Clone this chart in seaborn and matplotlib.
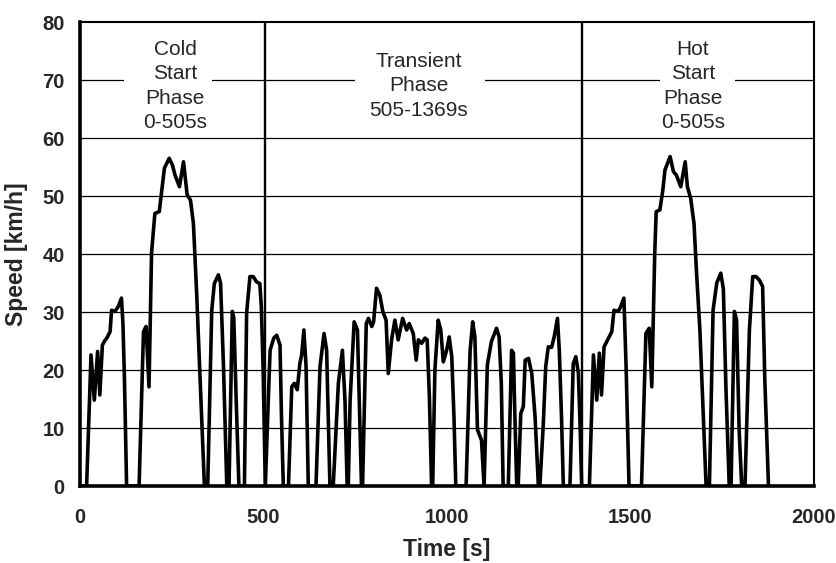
import matplotlib
matplotlib.use("Agg")
import matplotlib.pyplot as plt
from matplotlib.patches import Rectangle
import numpy as np
import pandas as pd
import seaborn as sns

# FTP-75 driving cycle: cold start, transient and hot start phases
cold_time = [0, 18, 30, 39, 48, 54, 61, 67, 73, 82, 86, 95, 104, 113, 117, 121, 127,
             161, 173, 180, 188, 195, 204, 216, 222, 230, 243, 252, 259, 271, 282, 292,
             301, 309, 318, 327, 339, 348, 359, 366, 377, 383, 391, 400, 406, 415, 419,
             426, 433, 448, 454, 463, 472, 481, 490, 494, 499, 505]
cold_speed = [0, 0, 22.6, 14.8, 23.2, 15.7, 24.3, 25.0, 25.5, 26.6, 30.3, 30.1, 30.9, 32.4, 28.0, 18.8, 0,
              0, 26.6, 27.5, 17.1, 40.2, 47.0, 47.3, 50.5, 54.8, 56.5, 55.3, 53.6, 51.6, 55.9, 50.2,
              49.3, 45.3, 33.0, 19.0, 0, 0, 30.3, 34.9, 36.4, 35.0, 20.6, 0, 0, 30.1, 29.0,
              14.0, 0, 0, 29.8, 36.1, 36.1, 35.2, 34.9, 31.0, 20.0, 0]

transient_time = [513, 518, 528, 536, 545, 549, 554, 568, 577, 584, 592, 599, 604, 610, 616, 622,
                  643, 654, 665, 672, 681, 690, 704, 715, 722, 728, 731, 736, 747, 756, 762, 767,
                  770, 780, 786, 795, 800, 808, 817, 825, 834, 840, 849, 858, 867, 879, 890, 897,
                  908, 916, 922, 931, 940, 946, 952, 958, 961, 967, 976, 983, 990, 999, 1006, 1013,
                  1019, 1024, 1052, 1063, 1070, 1076, 1083, 1094, 1101, 1110, 1121, 1135, 1142, 1148,
                  1153, 1167, 1176, 1181, 1185, 1190, 1194, 1201, 1208, 1213, 1222, 1231, 1240, 1249,
                  1253, 1262, 1269, 1276, 1285, 1292, 1301, 1306, 1312, 1317, 1335, 1344, 1351, 1358,
                  1362, 1367, 1369]
transient_speed = [14.8, 23.4, 25.5, 26.0, 24.3, 11.9, 0, 0, 17.1, 17.7, 16.6, 21.1, 22.6, 26.9, 20.6, 0,
                   0, 20.6, 26.3, 23.4, 0, 0, 17.7, 23.4, 14.8, 0, 0, 14.8, 28.3, 26.9, 11.9, 0,
                   0, 28.0, 28.9, 27.5, 28.3, 34.1, 32.9, 30.1, 28.6, 19.4, 25.2, 28.6, 25.2, 28.9, 26.9, 28.0,
                   26.3, 21.7, 25.2, 24.6, 25.5, 25.2, 15.4, 0, 0, 20.0, 28.6, 26.9, 21.4, 23.4, 25.7, 22.3,
                   11.9, 0, 0, 23.4, 28.3, 25.7, 9.7, 7.9, 0, 20.9, 24.9, 27.2, 25.7, 17.7,
                   0, 0, 23.4, 22.9, 11.9, 0, 0, 12.5, 13.7, 21.7, 22.0, 19.4, 11.9, 0,
                   0, 10.2, 20.6, 24.0, 23.9, 25.7, 28.9, 23.4, 11.9, 0, 0, 21.1, 22.3, 19.4,
                   11.9, 0, 0]

hot_time = [1388, 1399, 1408, 1415, 1421, 1428, 1440, 1449, 1455, 1467, 1473, 1482, 1488, 1496,
            1530, 1542, 1551, 1558, 1566, 1570, 1580, 1588, 1594, 1608, 1617, 1625, 1637, 1649,
            1655, 1664, 1673, 1680, 1689, 1706, 1715, 1725, 1735, 1746, 1753, 1760, 1769, 1774,
            1783, 1789, 1796, 1803, 1812, 1824, 1833, 1842, 1851, 1860, 1866, 1876]
hot_speed = [0, 22.6, 14.8, 22.9, 15.7, 24.0, 25.5, 26.6, 30.3, 30.1, 30.9, 32.4, 20.6, 0,
             0, 26.3, 27.2, 17.1, 40.0, 47.3, 47.6, 51.0, 54.5, 56.8, 54.2, 53.6, 51.6, 55.9,
             51.6, 49.6, 45.3, 36.7, 27.0, 0, 0, 30.3, 35.0, 36.7, 34.0, 17.0, 0, 0,
             30.1, 28.6, 9.7, 0, 0, 26.9, 36.1, 36.1, 35.5, 34.4, 18.3, 0]

phase_bounds = [505, 1369]
phase_labels = ["Cold\nStart\nPhase\n0-505s", "Transient\nPhase\n505-1369s", "Hot\nStart\nPhase\n0-505s"]
phase_label_x = [260, 923, 1670]
phase_label_y = 69

x_ticks = [0, 500, 1000, 1500, 2000]
y_ticks = [0, 10, 20, 30, 40, 50, 60, 70, 80]

df = pd.DataFrame({
    "time": cold_time + transient_time + hot_time,
    "speed": cold_speed + transient_speed + hot_speed,
})

sns.set_style("white")
plt.rcParams["font.family"] = ["Liberation Sans", "DejaVu Sans"]

fig = plt.figure(figsize=(8.37, 5.63), dpi=100)
ax = fig.add_axes([80 / 837, 77 / 563, 734 / 837, 464 / 563])

# horizontal grid
for yv in y_ticks[1:-1]:
    ax.axhline(yv, color="black", lw=0.9, zorder=1)

# phase boundaries
for xb in phase_bounds:
    ax.axvline(xb, color="black", lw=1.7, zorder=2)

sns.lineplot(data=df, x="time", y="speed", color="black", linewidth=2.6,
             estimator=None, sort=False, ax=ax, zorder=3)
for ln in ax.get_lines()[-1:]:
    ln.set_solid_joinstyle("round")
    ln.set_solid_capstyle("round")

# white boxes behind the phase captions (interrupt the 70 km/h grid line)
label_boxes = [(120, 360), (749, 1104), (1580, 1785)]
for x0, x1 in label_boxes:
    ax.add_patch(Rectangle((x0, 62), x1 - x0, 16, facecolor="white",
                           edgecolor="none", zorder=1.5))

for lbl, xl in zip(phase_labels, phase_label_x):
    ax.text(xl, phase_label_y, lbl, ha="center", va="center", fontsize=15,
            linespacing=1.36, zorder=4)

ax.set_xlim(0, 2000)
ax.set_ylim(0, 80)
ax.set_xticks(x_ticks)
ax.set_yticks(y_ticks)
ax.set_xticklabels([str(v) for v in x_ticks], fontsize=14.5, fontweight="bold")
ax.set_yticklabels([str(v) for v in y_ticks], fontsize=14.5, fontweight="bold")
ax.tick_params(axis="x", direction="out", length=5, width=2.5, pad=11, color="black")
ax.tick_params(axis="y", direction="out", length=5, width=2.5, pad=6, color="black")

ax.set_xlabel("Time [s]", fontsize=16.5, fontweight="bold", labelpad=8)
ax.set_ylabel("Speed [km/h]", fontsize=16.5, fontweight="bold", labelpad=10)

for side in ["left", "bottom"]:
    ax.spines[side].set_linewidth(2.6)
    ax.spines[side].set_color("black")
for side in ["top", "right"]:
    ax.spines[side].set_linewidth(1.5)
    ax.spines[side].set_color("black")
    ax.spines[side].set_visible(True)

fig.savefig("out.png", dpi=100, facecolor="white")
